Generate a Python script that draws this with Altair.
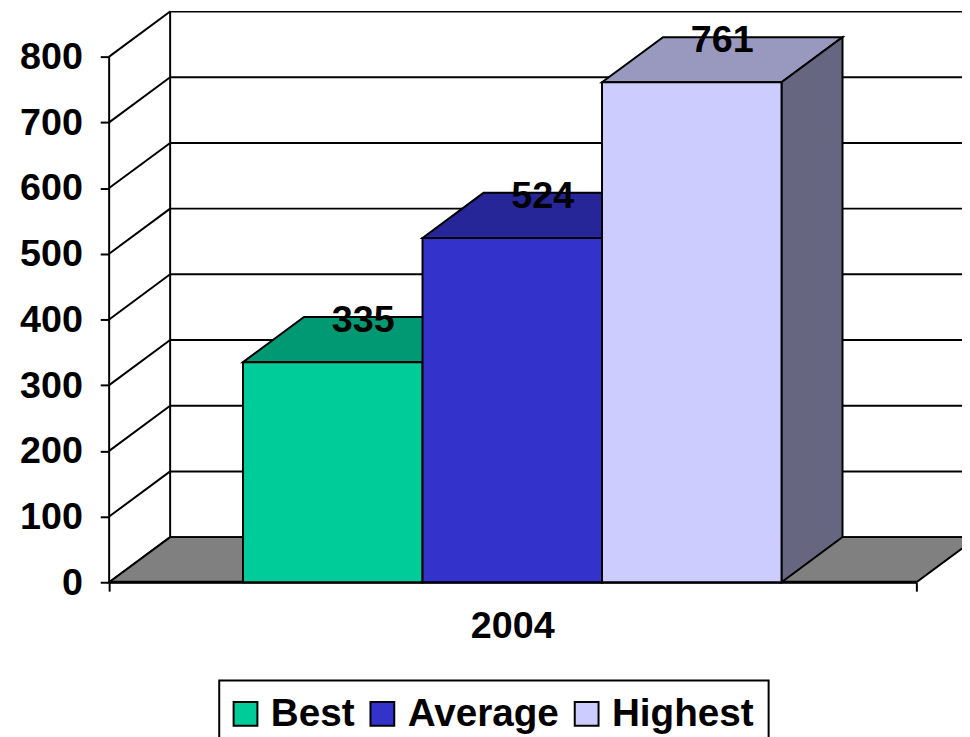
import altair as alt
import pandas as pd

# --- chart values ---
series = ["Best", "Average", "Highest"]
values = [335, 524, 761]
year = "2004"
y_ticks = [0, 100, 200, 300, 400, 500, 600, 700, 800]
front_colors = ["#00CC99", "#3333CC", "#CCCCFF"]
top_colors = ["#009973", "#262699", "#9999BF"]
side_colors = ["#007359", "#1A1A66", "#666680"]

# --- layout (scale units: one bar = 1 x unit; y in data units) ---
W, H = 962, 729
PX_BAR = 181.0
PX_VAL = 0.6625
X0_PX, Y0_PX = 237.0, 576.0  # svg position of bar 0 left edge / value 0
DEPTH_X = 61.5 / PX_BAR
DEPTH_Y = 45.5 / PX_VAL
AXIS_L = (102.0 - X0_PX) / PX_BAR
AXIS_R = (916.0 - X0_PX) / PX_BAR
x_scale = alt.Scale(domain=[(0 - X0_PX) / PX_BAR, (W - X0_PX) / PX_BAR], range=[0, W], nice=False, zero=False)
y_scale = alt.Scale(domain=[(Y0_PX - H) / PX_VAL, Y0_PX / PX_VAL], range=[H, 0], nice=False, zero=False)
FONT = "Liberation Sans"
FS = 38
LW = 2

x_axis = alt.Axis(values=[AXIS_L, AXIS_R], labels=False, domain=False, grid=False, orient="bottom",
                  offset=-(H - Y0_PX), tickSize=9, tickWidth=LW, tickColor="black", title=None)
y_axis = alt.Axis(values=y_ticks, domain=False, grid=False, orient="left", offset=-102, tickSize=9,
                  tickWidth=LW, tickColor="black", labelFont=FONT, labelFontSize=FS, labelFontWeight="bold",
                  labelColor="black", labelPadding=18, labelOffset=1, format="d", title=None)


def X(f="x"):
    return alt.X(f"{f}:Q", scale=x_scale, axis=x_axis)


def Y(f="y"):
    return alt.Y(f"{f}:Q", scale=y_scale, axis=y_axis)


# --- tables derived from the values ---
top_rows, side_rows, front_rows, label_rows = [], [], [], []
for i, (s, v) in enumerate(zip(series, values)):
    a, b = float(i), float(i + 1)
    d, e = DEPTH_X, DEPTH_Y
    for x, y, y2 in [(a, v, v), (a + d, v + e, v), (b, v + e, v), (b + d, v + e, v + e)]:
        top_rows.append(dict(series=s, x=x, y=y, y2=y2, c=top_colors[i]))
    for x, y, y2 in [(b, v, 0), (b + d, v + e, e)]:
        side_rows.append(dict(series=s, x=x, y=y, y2=y2, c=side_colors[i]))
    front_rows.append(dict(series=s, x=a, x2=b, y=v, y2=0))
    label_rows.append(dict(t=str(v), x=a + 0.5 + d / 2, y=v + e))

floor = pd.DataFrame(
    [
        dict(x=AXIS_L, y=0, y2=0),
        dict(x=AXIS_L + DEPTH_X, y=DEPTH_Y, y2=0),
        dict(x=AXIS_R, y=DEPTH_Y, y2=0),
        dict(x=AXIS_R + DEPTH_X, y=DEPTH_Y, y2=DEPTH_Y),
    ]
)
back_grid = pd.DataFrame([dict(x=AXIS_L + DEPTH_X, x2=(W - X0_PX) / PX_BAR, y=t + DEPTH_Y) for t in y_ticks])
wall_rows = []
for t in y_ticks:
    wall_rows.append(dict(g=t, x=AXIS_L, y=t))
    wall_rows.append(dict(g=t, x=AXIS_L + DEPTH_X, y=t + DEPTH_Y))

grid = alt.Chart(back_grid).mark_rule(color="black", strokeWidth=LW, clip=True).encode(x=X(), x2="x2:Q", y=Y())
wall = alt.Chart(pd.DataFrame(wall_rows)).mark_line(color="black", strokeWidth=LW).encode(
    x=X(), y=Y(), detail="g:N", order="x:Q"
)
back_v = alt.Chart(pd.DataFrame([dict(x=AXIS_L + DEPTH_X, y=DEPTH_Y, y2=800 + DEPTH_Y)])).mark_rule(
    color="black", strokeWidth=LW
).encode(x=X(), y=Y(), y2="y2:Q")
floor_m = alt.Chart(floor).mark_area(fill="#808080", stroke="black", strokeWidth=LW, clip=True).encode(
    x=X(), y=Y(), y2="y2:Q"
)
axis_v = alt.Chart(pd.DataFrame([dict(x=AXIS_L, y=800, y2=0)])).mark_rule(color="black", strokeWidth=LW).encode(
    x=X(), y=Y(), y2="y2:Q"
)
axis_h = alt.Chart(pd.DataFrame([dict(x=AXIS_L, x2=AXIS_R, y=0)])).mark_rule(color="black", strokeWidth=3).encode(
    x=X(), x2="x2:Q", y=Y()
)
tops = alt.Chart(pd.DataFrame(top_rows)).mark_area(stroke="black", strokeWidth=LW).encode(
    x=X(), y=Y(), y2="y2:Q", detail="series:N", fill=alt.Fill("c:N", scale=None, legend=None)
)
sides = alt.Chart(pd.DataFrame(side_rows)).mark_area(stroke="black", strokeWidth=LW).encode(
    x=X(), y=Y(), y2="y2:Q", detail="series:N", fill=alt.Fill("c:N", scale=None, legend=None)
)
fronts = alt.Chart(pd.DataFrame(front_rows)).mark_rect(stroke="black", strokeWidth=LW).encode(
    x=X(), x2="x2:Q", y=Y(), y2="y2:Q",
    color=alt.Color(
        "series:N",
        sort=series,
        scale=alt.Scale(domain=series, range=front_colors),
        legend=alt.Legend(
            title=None, orient="none", legendX=213, legendY=675, direction="horizontal", columns=3,
            symbolType="square", symbolSize=576, symbolStrokeColor="black", symbolStrokeWidth=2,
            symbolOpacity=1, symbolOffset=-7, labelFont=FONT, labelFontSize=39, labelFontWeight="bold",
            labelColor="black", labelOffset=6, labelLimit=400, columnPadding=11, padding=14,
            strokeColor="black", fillColor="white",
        ),
    ),
)
labels = alt.Chart(pd.DataFrame(label_rows)).mark_text(
    font=FONT, fontSize=FS, fontWeight="bold", color="black", baseline="alphabetic", align="center", dy=15
).encode(x=X(), y=Y(), text="t:N")
year_label = alt.Chart(pd.DataFrame([dict(t=year, x=(AXIS_L + AXIS_R) / 2, y=0)])).mark_text(
    font=FONT, fontSize=FS, fontWeight="bold", color="black", baseline="alphabetic", align="center", dy=56
).encode(x=X(), y=Y(), text="t:N")

chart = (
    alt.layer(grid, wall, back_v, floor_m, axis_v, axis_h, tops, sides, fronts, labels, year_label)
    .properties(width=W, height=H, padding=0, autosize=alt.AutoSizeParams(type="none"))
    .configure_view(stroke=None)
    .configure_legend(strokeWidth=2)
)

chart.save("out.html", embed_options={"renderer": "svg", "actions": False})
